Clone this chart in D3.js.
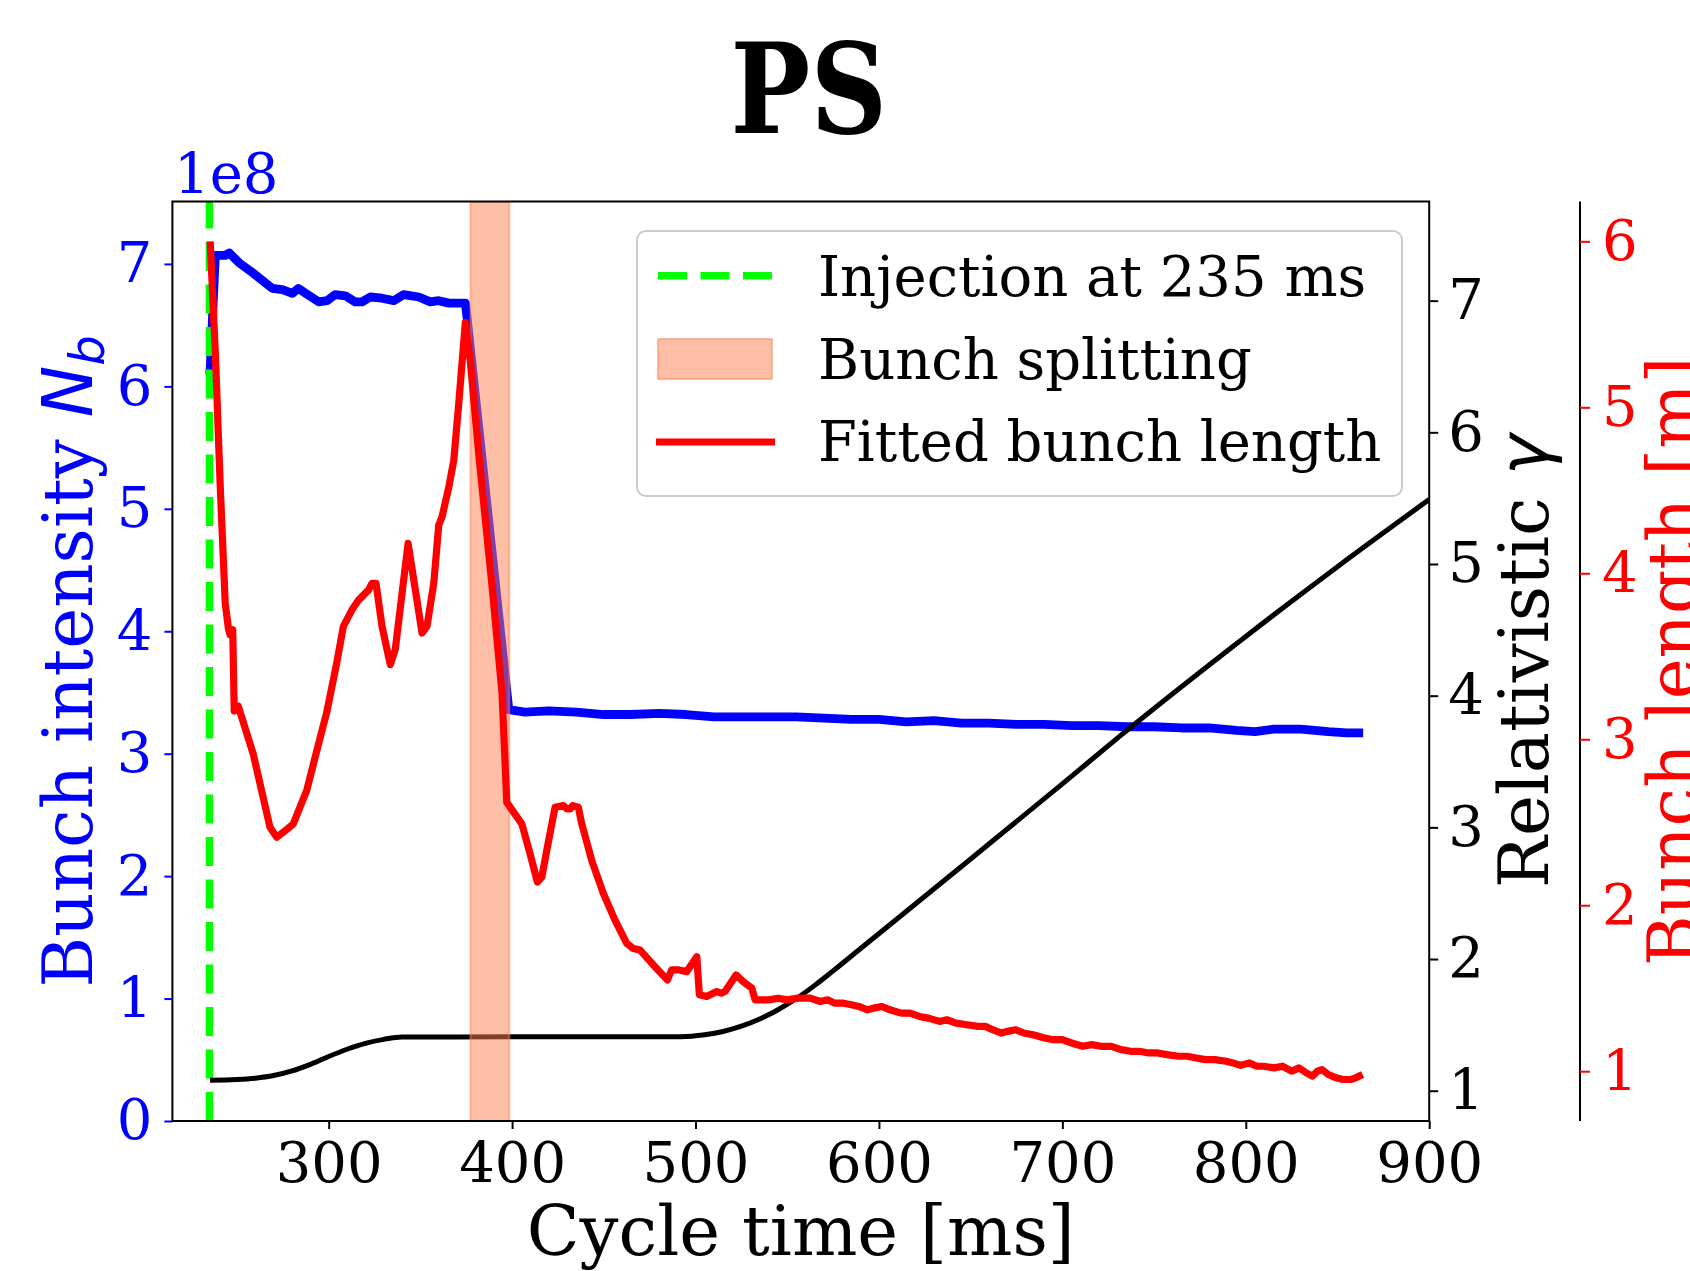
<!DOCTYPE html>
<html>
<head>
<meta charset="utf-8">
<script src="https://cdn.jsdelivr.net/npm/d3@7"></script>
<style>
body { margin: 0; background: #fff; }
svg text { font-family: "DejaVu Serif", serif; }
</style>
</head>
<body>
<div id="chart"></div>
<script>
// Bunch intensity (units of 1e8) vs cycle time [ms]
const nbTime = [235, 235.4, 238.2, 243.6, 245.8, 251.1, 258.4, 269.3, 274.8, 280.2, 283.5, 287.5, 294.6, 299.1, 303.6,
    309.1, 314.5, 318.2, 322.7, 329.1, 335.5, 340.9, 349.1, 355.4, 360, 365.5, 374.5, 375.4, 398.2, 407,
    420, 435, 450, 465, 480, 495, 510, 525, 540, 555, 570, 585, 600, 615, 630, 645, 660, 675, 690, 705,
    720, 735, 750, 765, 780, 795, 805, 815, 830, 845, 855, 864];
const nbValues = [6.1, 6.14, 7.07, 7.07, 7.09, 7.01, 6.93, 6.80, 6.79, 6.76, 6.80, 6.76, 6.69, 6.70, 6.75,
    6.74, 6.69, 6.69, 6.73, 6.72, 6.70, 6.75, 6.73, 6.69, 6.70, 6.68, 6.68, 6.57, 3.36, 3.34,
    3.35, 3.34, 3.32, 3.32, 3.33, 3.32, 3.30, 3.30, 3.30, 3.30, 3.29, 3.28, 3.28, 3.26, 3.27, 3.25, 3.25, 3.24, 3.24, 3.23,
    3.23, 3.22, 3.22, 3.21, 3.21, 3.19, 3.18, 3.20, 3.20, 3.18, 3.17, 3.17];

// Fitted bunch length [m]
const lenTime = [235.4, 238.2, 240.9, 243.6, 245.3, 246.2, 247.7, 248.5, 250.7, 258.9, 268, 271.7, 275.3, 280.7, 288,
    293.5, 298.9, 304.4, 308, 312.7, 316.4, 321.8, 323.6, 325.8, 329.1, 333.6, 336.3, 343.3, 350.9, 353.6,
    357.3, 360, 361.8, 365.5, 368.2, 370.9, 374.5, 377.2, 381.8, 389.1, 394.5, 397.1, 403.4, 405.3, 409.8,
    413.8, 416.2, 418.9, 423.4, 428, 430, 431.6, 433, 436.1, 438, 443.4, 449.8, 456.1, 462.5, 466,
    469.8, 477, 484.7, 487, 491, 495.2, 500.7, 502.1, 506.1, 511.6, 514, 516.1, 522.1, 526, 530.7,
    532.5, 540, 545, 550, 556, 562.5, 567.9, 572, 576, 580.7, 585, 589, 593.8, 597, 601.6,
    606, 612.1, 617, 622, 627, 633, 637, 642, 648, 653.9, 658, 662, 666.8, 670, 674.6,
    679, 684, 690.3, 695, 700, 705, 711.1, 716, 721, 726.7, 732, 737.2, 742, 747, 752,
    757, 763.3, 768, 773, 778, 783, 789.3, 793, 797.2, 802, 806, 810, 815.4, 820, 825,
    829, 833, 836.3, 839, 841.5, 845, 849.3, 853, 857.2, 860, 863.7];
const lenValues = [6.00, 5.33, 4.52, 3.82, 3.67, 3.63, 3.66, 3.17, 3.20, 2.91, 2.47, 2.41, 2.44, 2.49, 2.69,
    2.93, 3.16, 3.46, 3.68, 3.78, 3.84, 3.90, 3.94, 3.94, 3.68, 3.45, 3.54, 4.18, 3.64, 3.68,
    3.94, 4.29, 4.34, 4.52, 4.68, 5.02, 5.51, 5.28, 4.72, 3.92, 3.28, 2.62, 2.52, 2.49, 2.31,
    2.14, 2.17, 2.33, 2.59, 2.60, 2.58, 2.58, 2.60, 2.59, 2.49, 2.27, 2.07, 1.91, 1.77, 1.74,
    1.73, 1.64, 1.55, 1.61, 1.61, 1.60, 1.69, 1.46, 1.45, 1.48, 1.47, 1.48, 1.58, 1.54, 1.50,
    1.43, 1.43, 1.44, 1.43, 1.44, 1.44, 1.42, 1.43, 1.41, 1.41, 1.40, 1.39, 1.37, 1.38, 1.39,
    1.37, 1.35, 1.35, 1.33, 1.32, 1.30, 1.31, 1.29, 1.28, 1.27, 1.27, 1.25, 1.23, 1.24, 1.25,
    1.23, 1.22, 1.20, 1.19, 1.19, 1.17, 1.15, 1.16, 1.15, 1.15, 1.13, 1.12, 1.12, 1.11, 1.11,
    1.10, 1.09, 1.09, 1.08, 1.07, 1.07, 1.06, 1.05, 1.035, 1.05, 1.03, 1.03, 1.02, 1.03, 1.00,
    1.02, 0.99, 0.97, 1.00, 1.01, 0.98, 0.96, 0.95, 0.95, 0.96, 0.98];

// Relativistic gamma
const gammaTime = [235.3, 250, 260, 270, 280, 290, 300, 310, 320, 330, 340, 492, 505, 515, 525,
    535, 545, 555, 565, 575, 590, 650, 700, 732, 800, 850, 900];
const gammaValues = [1.08, 1.085, 1.095, 1.115, 1.15, 1.20, 1.26, 1.315, 1.36, 1.39, 1.408, 1.41, 1.425, 1.45, 1.49,
    1.545, 1.615, 1.70, 1.80, 1.91, 2.08, 2.76, 3.33, 3.70, 4.45, 4.98, 5.49];

const injectionTime = 235;
const splitWindow = [377.3, 398.5];

const xTicks = [300, 400, 500, 600, 700, 800, 900];
const nbTicks = [0, 1, 2, 3, 4, 5, 6, 7];
const gammaTicks = [1, 2, 3, 4, 5, 6, 7];
const lenTicks = [1, 2, 3, 4, 5, 6];

const legendLabels = ["Injection at 235 ms", "Bunch splitting", "Fitted bunch length"];

// Layout
const width = 1690, height = 1271;
const plot = {left: 172.4, right: 1429.2, top: 201.5, bottom: 1121};
const lenAxisX = 1580;
const tickFont = 56, labelFont = 69;

const svg = d3.select("#chart").append("svg")
    .attr("width", width)
    .attr("height", height);

// Scales
const x = d3.scaleLinear().domain([214.8, 900]).range([plot.left, plot.right]);
const yNb = d3.scaleLinear().domain([0, 7.51]).range([plot.bottom, plot.top]);
const yGamma = d3.scaleLinear().domain([0.77, 7.753]).range([plot.bottom, plot.top]);
const yLen = d3.scaleLinear().domain([0.70, 6.24]).range([plot.bottom, plot.top]);

svg.append("clipPath").attr("id", "plotClip")
    .append("rect")
    .attr("x", plot.left).attr("y", plot.top)
    .attr("width", plot.right - plot.left).attr("height", plot.bottom - plot.top);

const layer = svg.append("g").attr("clip-path", "url(#plotClip)");

// Blue intensity line
const nbLine = d3.line().x(d => x(d[0])).y(d => yNb(d[1]));
layer.append("path")
    .datum(d3.zip(nbTime, nbValues))
    .attr("d", nbLine)
    .attr("fill", "none").attr("stroke", "#0000ff")
    .attr("stroke-width", 8.8).attr("stroke-linejoin", "round");

// Injection marker (dash pattern starts at the bottom, like matplotlib axvline)
layer.append("line")
    .attr("x1", x(injectionTime)).attr("x2", x(injectionTime))
    .attr("y1", plot.bottom).attr("y2", plot.top)
    .attr("stroke", "#00ff00").attr("stroke-width", 7.5)
    .attr("stroke-dasharray", "29,13.5");

// Gamma line
const gammaLine = d3.line().x(d => x(d[0])).y(d => yGamma(d[1])).curve(d3.curveMonotoneX);
layer.append("path")
    .datum(d3.zip(gammaTime, gammaValues))
    .attr("d", gammaLine)
    .attr("fill", "none").attr("stroke", "#000")
    .attr("stroke-width", 5);

// Bunch splitting window
layer.append("rect")
    .attr("x", x(splitWindow[0]))
    .attr("y", plot.top)
    .attr("width", x(splitWindow[1]) - x(splitWindow[0]))
    .attr("height", plot.bottom - plot.top)
    .attr("fill", "coral").attr("fill-opacity", 0.5)
    .attr("stroke", "coral").attr("stroke-opacity", 0.5).attr("stroke-width", 2);

// Bunch length line
const lenLine = d3.line().x(d => x(d[0])).y(d => yLen(d[1]));
layer.append("path")
    .datum(d3.zip(lenTime, lenValues))
    .attr("d", lenLine)
    .attr("fill", "none").attr("stroke", "#ff0000")
    .attr("stroke-width", 7.2).attr("stroke-linejoin", "round");

// Frame
svg.append("rect")
    .attr("x", plot.left).attr("y", plot.top)
    .attr("width", plot.right - plot.left).attr("height", plot.bottom - plot.top)
    .attr("fill", "none").attr("stroke", "#000").attr("stroke-width", 2);

function styleAxis(g, color) {
    g.attr("font-family", "DejaVu Serif").attr("font-size", tickFont);
    g.selectAll(".tick line").attr("stroke", color).attr("stroke-width", 2);
    g.selectAll(".tick text").attr("fill", color);
}

const intFormat = d3.format("d");

// Bottom axis
const xAxis = svg.append("g")
    .attr("transform", "translate(0," + plot.bottom + ")")
    .call(d3.axisBottom(x).tickValues(xTicks).tickFormat(intFormat).tickSize(8).tickPadding(13).tickSizeOuter(0));
xAxis.select(".domain").remove();
styleAxis(xAxis, "#000");

// Left axis (intensity)
const nbAxis = svg.append("g")
    .attr("transform", "translate(" + plot.left + ",0)")
    .call(d3.axisLeft(yNb).tickValues(nbTicks).tickFormat(intFormat).tickSize(8).tickPadding(12).tickSizeOuter(0));
nbAxis.select(".domain").remove();
styleAxis(nbAxis, "#0000ff");

// Right axis (gamma)
const gammaAxis = svg.append("g")
    .attr("transform", "translate(" + plot.right + ",0)")
    .call(d3.axisRight(yGamma).tickValues(gammaTicks).tickFormat(intFormat).tickSize(9).tickPadding(10).tickSizeOuter(0));
gammaAxis.select(".domain").remove();
styleAxis(gammaAxis, "#000");

// Offset right axis (bunch length)
const lenAxis = svg.append("g")
    .attr("transform", "translate(" + lenAxisX + ",0)")
    .call(d3.axisRight(yLen).tickValues(lenTicks).tickFormat(intFormat).tickSize(10).tickPadding(12).tickSizeOuter(0));
lenAxis.select(".domain").attr("stroke", "#000").attr("stroke-width", 2)
    .attr("d", "M0," + plot.top + "V" + plot.bottom);
styleAxis(lenAxis, "#ff0000");

// Title and offset text
svg.append("text")
    .attr("transform", "translate(" + ((plot.left + plot.right) / 2 + 8) + ",133) scale(0.9,1.06)")
    .attr("text-anchor", "middle")
    .attr("font-size", 118).attr("font-weight", "bold")
    .text("PS");

svg.append("text")
    .attr("x", 174).attr("y", 193)
    .attr("font-size", tickFont).attr("fill", "#0000ff")
    .text("1e8");

// Axis labels
svg.append("text")
    .attr("x", (plot.left + plot.right) / 2).attr("y", 1255)
    .attr("text-anchor", "middle")
    .attr("font-size", labelFont)
    .text("Cycle time [ms]");

const nbLabel = svg.append("text")
    .attr("transform", "translate(92," + (plot.top + plot.bottom) / 2 + ") rotate(-90)")
    .attr("text-anchor", "middle")
    .attr("font-size", labelFont).attr("fill", "#0000ff");
nbLabel.append("tspan").text("Bunch intensity ");
nbLabel.append("tspan").attr("font-family", "DejaVu Sans").attr("font-style", "italic").text("N");
nbLabel.append("tspan").attr("font-family", "DejaVu Sans").attr("font-style", "italic")
    .attr("font-size", labelFont * 0.7).attr("dy", 12).text("b");

const gammaLabel = svg.append("text")
    .attr("transform", "translate(1548," + (plot.top + plot.bottom) / 2 + ") rotate(-90)")
    .attr("text-anchor", "middle")
    .attr("font-size", labelFont).attr("fill", "#000");
gammaLabel.append("tspan").text("Relativistic ");
gammaLabel.append("tspan").attr("font-family", "DejaVu Sans").attr("font-style", "italic").text("γ");

svg.append("text")
    .attr("transform", "translate(1697," + (plot.top + plot.bottom) / 2 + ") rotate(-90)")
    .attr("text-anchor", "middle")
    .attr("font-size", labelFont).attr("fill", "#ff0000")
    .text("Bunch length [m]");

// Legend
const legend = svg.append("g");
legend.append("rect")
    .attr("x", 637).attr("y", 231).attr("width", 765).attr("height", 265).attr("rx", 9)
    .attr("fill", "#fff").attr("fill-opacity", 0.8)
    .attr("stroke", "#cccccc").attr("stroke-width", 2);
legend.append("line")
    .attr("x1", 658).attr("x2", 772).attr("y1", 275.7).attr("y2", 275.7)
    .attr("stroke", "#00ff00").attr("stroke-width", 7.5).attr("stroke-dasharray", "29,13.5");
legend.append("rect")
    .attr("x", 658).attr("y", 339).attr("width", 114).attr("height", 40)
    .attr("fill", "coral").attr("fill-opacity", 0.5)
    .attr("stroke", "coral").attr("stroke-opacity", 0.5).attr("stroke-width", 2);
legend.append("line")
    .attr("x1", 656).attr("x2", 775).attr("y1", 442).attr("y2", 442)
    .attr("stroke", "#ff0000").attr("stroke-width", 7.2);
legend.selectAll("text.entry")
    .data(legendLabels)
    .enter().append("text")
    .attr("class", "entry")
    .attr("x", 818)
    .attr("y", (d, i) => 296 + i * 82.5)
    .attr("font-size", tickFont)
    .text(d => d);
</script>
</body>
</html>
